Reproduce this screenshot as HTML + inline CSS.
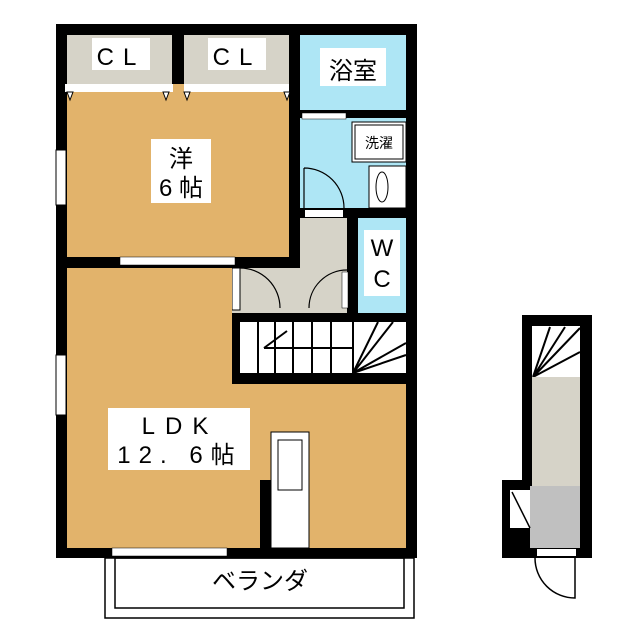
<!DOCTYPE html>
<html><head><meta charset="utf-8"><style>body{margin:0;background:#fff}svg{display:block}text{font-family:"Liberation Sans","Noto Sans CJK JP",sans-serif}</style></head><body>
<svg width="640" height="640" viewBox="0 0 640 640" xmlns="http://www.w3.org/2000/svg">
<rect width="640" height="640" fill="#fff"/>
<rect x="56" y="24" width="361" height="534" fill="#000"/>
<rect x="67" y="35" width="105" height="49" fill="#d6d3c8"/>
<rect x="184" y="35" width="105" height="49" fill="#d6d3c8"/>
<rect x="92" y="38" width="58" height="32" fill="#fff"/>
<rect x="208" y="38" width="58" height="32" fill="#fff"/>
<text x="121" y="65" font-size="24" text-anchor="middle" letter-spacing="9">CL</text>
<text x="237" y="65" font-size="24" text-anchor="middle" letter-spacing="9">CL</text>
<rect x="300" y="35" width="106" height="75" fill="#aee6f5"/>
<rect x="320" y="48" width="66" height="38" fill="#fff"/>
<text x="353" y="79" font-size="24" text-anchor="middle">浴室</text>
<rect x="67" y="84" width="222" height="173" fill="#e2b36b"/>
<rect x="65" y="84" width="108" height="8" fill="#fff"/>
<rect x="184" y="84" width="105" height="8" fill="#fff"/>
<path d="M67 92l3 8 3-8zM163 92l3 8 3-8zM184 92l3 8 3-8zM284 92l3 8 3-8z" fill="#fff" stroke="#000" stroke-width="1"/>
<rect x="151" y="139" width="60" height="64" fill="#fff"/>
<text x="181" y="167" font-size="24" text-anchor="middle">洋</text>
<text x="181" y="196" font-size="24" text-anchor="middle">6 帖</text>
<rect x="300" y="118" width="106" height="90" fill="#aee6f5"/>
<rect x="302" y="113" width="44" height="6" fill="#fff" stroke="#000" stroke-width="0.5"/>
<rect x="352" y="122" width="54" height="40" fill="#fff" stroke="#000" stroke-width="1"/>
<rect x="355" y="125" width="48" height="34" fill="none" stroke="#000" stroke-width="1"/>
<text x="379" y="148" font-size="14" text-anchor="middle">洗濯</text>
<rect x="369" y="166" width="37" height="42" fill="#fff" stroke="#000" stroke-width="1"/>
<ellipse cx="382" cy="187" rx="6" ry="15" fill="none" stroke="#000"/>
<path d="M304 168a40 40 0 0 1 40 40M304 168v40" fill="none" stroke="#000" stroke-width="1.2"/>
<rect x="305" y="210" width="38" height="7" fill="#fff"/>
<rect x="300" y="218" width="47" height="95" fill="#d6d3c8"/>
<rect x="232" y="268" width="115" height="45" fill="#d6d3c8"/>
<rect x="232" y="268" width="8" height="42" fill="#fff" stroke="#000" stroke-width="1"/>
<path d="M240 268a40 40 0 0 1 40 40M309 308a38 38 0 0 1 38 -38" fill="none" stroke="#000" stroke-width="1.2"/>
<rect x="342" y="272" width="6" height="36" fill="#fff" stroke="#000" stroke-width="0.5"/>
<rect x="358" y="218" width="48" height="95" fill="#aee6f5"/>
<rect x="364" y="230" width="36" height="66" fill="#fff"/>
<text x="382" y="256" font-size="24" text-anchor="middle">W</text>
<text x="382" y="287" font-size="24" text-anchor="middle">C</text>
<path d="M67 268H232V384H406V548H67Z" fill="#e2b36b"/>
<rect x="120" y="257" width="115" height="8" fill="#fff" stroke="#000" stroke-width="0.5"/>
<rect x="240" y="322" width="166" height="51" fill="#fff"/>
<g stroke="#000" stroke-width="2" fill="none">
<path d="M258 322v51M275 322v51M293 322v51M312 322v51M331 322v51M353 322v51"/>
<path d="M264 348H353M264 348l23-17M353 373l53-30M353 373l53-18M353 373l40-51M353 373l25-51"/>
</g>
<rect x="56" y="150" width="10" height="55" fill="#fff" stroke="#000"/>
<rect x="56" y="355" width="10" height="60" fill="#fff" stroke="#000"/>
<rect x="260" y="480" width="11" height="68" fill="#000"/>
<rect x="271" y="432" width="38" height="116" fill="#fff" stroke="#000"/>
<rect x="278" y="440" width="24" height="50" fill="#fff" stroke="#000"/>
<rect x="108" y="408" width="142" height="62" fill="#fff"/>
<text x="180" y="434" font-size="24" text-anchor="middle" letter-spacing="10">LDK</text>
<text x="180" y="463" font-size="24" text-anchor="middle" letter-spacing="8">12. 6帖</text>
<rect x="112" y="548" width="115" height="8" fill="#fff" stroke="#000" stroke-width="0.5"/>
<rect x="105" y="558" width="309" height="60" fill="none" stroke="#000" stroke-width="1.5"/>
<rect x="115" y="558" width="289" height="50" fill="none" stroke="#000" stroke-width="1.5"/>
<text x="260" y="589" font-size="24" text-anchor="middle">ベランダ</text>
<rect x="522" y="315" width="70" height="243" fill="#000"/>
<rect x="502" y="480" width="30" height="78" fill="#000"/>
<rect x="532" y="326" width="48" height="51" fill="#fff"/>
<g stroke="#000" stroke-width="2"><path d="M533 377L580 328M533 377L580 352M533 377L565 327M533 377L550 327"/></g>
<rect x="532" y="377" width="48" height="109" fill="#d6d3c8"/>
<rect x="530" y="486" width="50" height="62" fill="#c0c0c0"/>
<rect x="510" y="490" width="20" height="38" fill="#fff"/>
<path d="M512 492L530 528" stroke="#000" stroke-width="1.5"/>
<rect x="537" y="549" width="39" height="7" fill="#fff"/>
<path d="M535 558a40 40 0 0 0 40 40V558" fill="none" stroke="#000" stroke-width="1.5"/>
</svg>
</body></html>
